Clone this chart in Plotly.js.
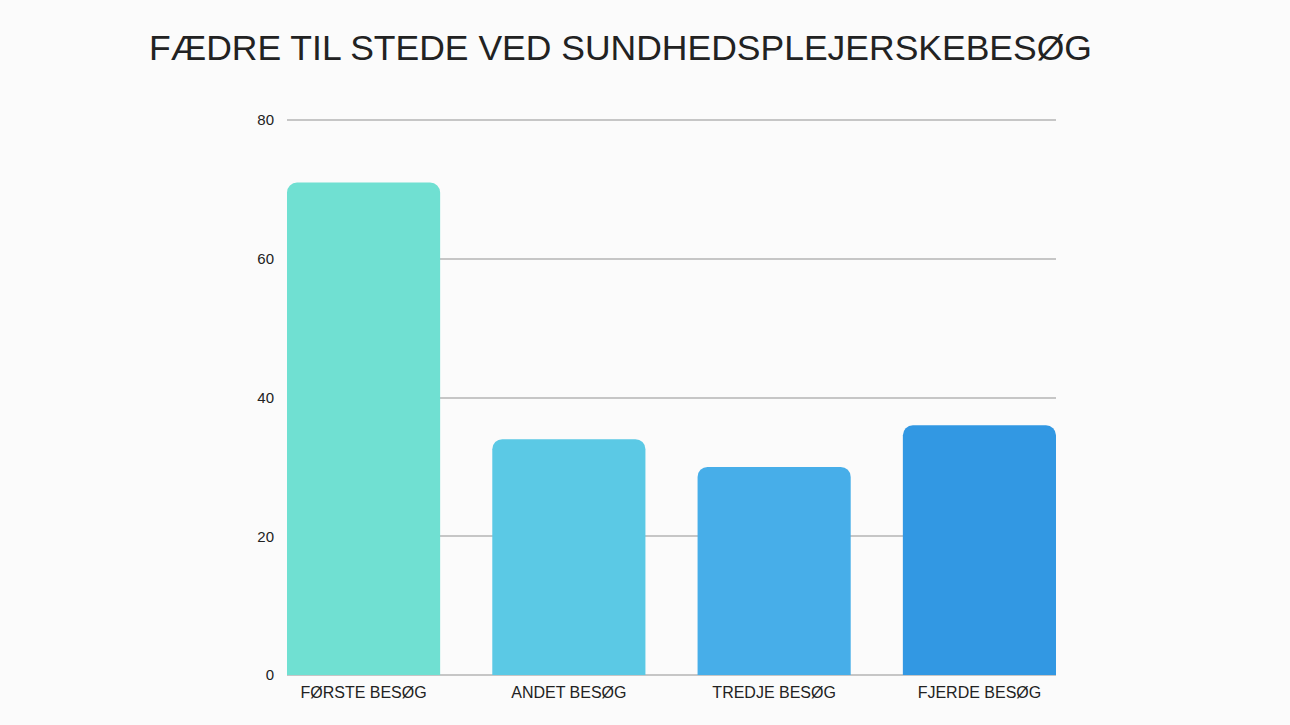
<!DOCTYPE html>
<html>
<head>
<meta charset="utf-8">
<script src="https://cdn.plot.ly/plotly-3.0.1.min.js"></script>
<style>
html,body{margin:0;padding:0;background:#ffffff;}
#chart{width:1290px;height:725px;}
</style>
</head>
<body>
<div id="chart"></div>
<script>
const categories = ["FØRSTE BESØG", "ANDET BESØG", "TREDJE BESØG", "FJERDE BESØG"];
const values = [71, 34, 30, 36];
const barColors = ["#70E0D2", "#5BC9E5", "#47AEE9", "#3298E3"];
const yTicks = [0, 20, 40, 60, 80];

const barWidth = 0.746;

const trace = {
  type: "bar",
  x: categories,
  y: values,
  marker: {color: barColors, cornerradius: 10, line: {width: 0}},
  hoverinfo: "x+y"
};

const layout = {
  width: 1290,
  height: 725,
  paper_bgcolor: "#fbfbfb",
  plot_bgcolor: "rgba(0,0,0,0)",
  margin: {l: 287, r: 234, t: 119, b: 50, pad: 0},
  title: {
    text: "FÆDRE TIL STEDE VED SUNDHEDSPLEJERSKEBESØG",
    font: {family: "Liberation Sans, Arial, sans-serif", size: 35.5, color: "#222222"},
    x: 149/1290, xanchor: "left", xref: "container",
    y: 1 - 60/725, yanchor: "bottom", yref: "container"
  },
  bargap: 1 - barWidth,
  showlegend: false,
  xaxis: {
    type: "category",
    range: [-barWidth/2, categories.length - 1 + barWidth/2],
    showgrid: false,
    showline: false,
    zeroline: false,
    ticks: "",
    tickfont: {family: "Liberation Sans, Arial, sans-serif", size: 16, color: "#222222"},
    ticklabelstandoff: 6
  },
  yaxis: {
    range: [0, 80.15],
    tickvals: yTicks,
    ticktext: yTicks.map(String),
    showgrid: true,
    gridcolor: "#c6c6c6",
    gridwidth: 2,
    zeroline: true,
    zerolinecolor: "#c6c6c6",
    zerolinewidth: 2,
    showline: false,
    ticks: "",
    ticklabelstandoff: 12,
    tickfont: {family: "Liberation Sans, Arial, sans-serif", size: 15, color: "#222222"}
  }
};

Plotly.newPlot("chart", [trace], layout, {displayModeBar: false, responsive: false});
</script>
</body>
</html>
